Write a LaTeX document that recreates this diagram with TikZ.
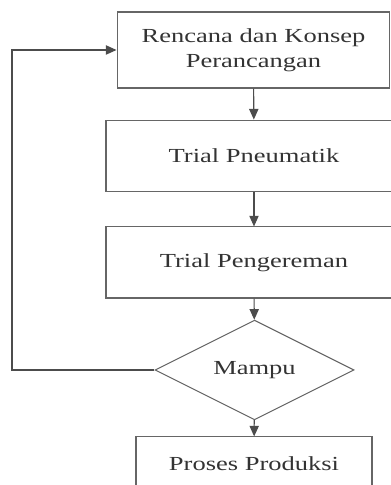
\documentclass[tikz,border=0pt]{standalone}
\usepackage{fontspec}
\setmainfont{Liberation Serif}
\usetikzlibrary{shapes.geometric,arrows.meta}
\newcommand{\widetxt}[1]{\scalebox{1.33}[1]{#1}}

\begin{document}
\begin{tikzpicture}[
  font=\fontsize{15}{18.75}\selectfont,
  flowbox/.style={draw=black!60, line width=0.8pt, text=black!80, inner sep=0pt,
    align=center, minimum width=7.83cm, minimum height=1.9cm},
  flowline/.style={draw=black!70, line width=0.8pt, -{Triangle[length=8pt,width=7pt]}}
]
%\draw[style=help lines] (0,0) grid (10,12);
\useasboundingbox (0,0) rectangle (10.345,12.832);
\clip (0,0) rectangle (10.345,12.832);

\node[flowbox, minimum width=7.22cm, minimum height=2.01cm] (rencana) at (6.707,11.509)
	{\widetxt{Rencana dan Konsep}\\\widetxt{Perancangan}};
\node[flowbox] (pneumatik) at (6.72,8.705) {\widetxt{Trial Pneumatik}};
\node[flowbox, minimum height=1.88cm] (pengereman) at (6.72,5.887) {\widetxt{Trial Pengereman}};
\node[flowbox, shape=diamond, minimum width=5.265cm, minimum height=1.958cm] (mampu) at (6.734,3.043)
	{\widetxt{Mampu}};
\node[flowbox, minimum width=6.244cm, minimum height=1.43cm] (produksi) at (6.72,0.556)
	{\widetxt{Proses Produksi}};

\draw[flowline] (rencana) -- (pneumatik);
\draw[flowline] (pneumatik) -- (pengereman);
\draw[flowline] (pengereman) -- (mampu);
\draw[flowline] (mampu) -- (produksi);

% back loop
\coordinate (loopcorner) at (0.317,3.043);
\draw[flowline] (mampu.west) -- (loopcorner) |- (rencana.west);

\end{tikzpicture}
\end{document}
